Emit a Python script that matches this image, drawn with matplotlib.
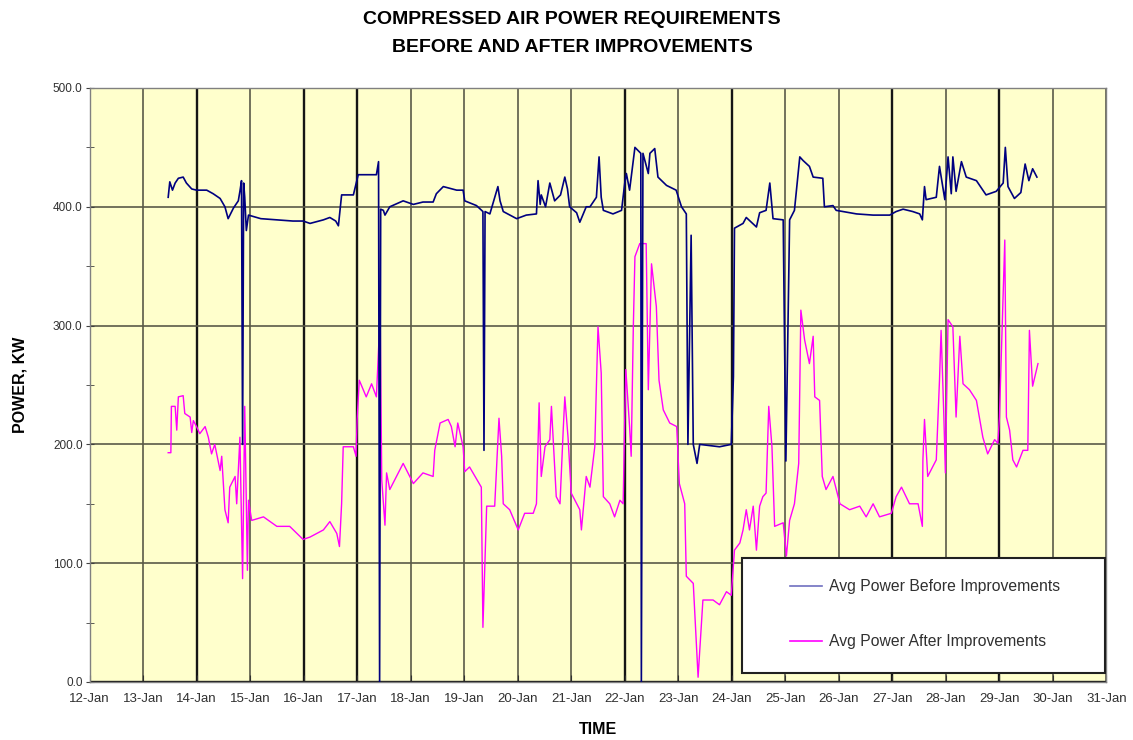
import matplotlib
matplotlib.use("Agg")
import matplotlib.pyplot as plt
from matplotlib.patches import Rectangle
from matplotlib.ticker import FixedLocator, MultipleLocator, FormatStrFormatter

plt.rcParams['font.family'] = ['Liberation Sans', 'DejaVu Sans']

# time = day of January (fractional), power in kW
before_t = [13.47, 13.50, 13.55, 13.60, 13.66, 13.75, 13.81, 13.91, 14.00, 14.19, 14.31, 14.44,
            14.53, 14.59, 14.69, 14.78, 14.81, 14.84, 14.86, 14.88, 14.90, 14.93, 14.97, 15.20,
            15.50, 15.80, 15.99, 16.12, 16.37, 16.49, 16.60, 16.65, 16.71, 16.93, 17.02, 17.36,
            17.40, 17.42, 17.44, 17.49, 17.52, 17.61, 17.86, 18.05, 18.23, 18.42, 18.48, 18.61,
            18.86, 18.98, 19.01, 19.23, 19.35, 19.37, 19.39, 19.48, 19.63, 19.67, 19.73, 19.98,
            20.16, 20.35, 20.38, 20.42, 20.44, 20.52, 20.60, 20.69, 20.80, 20.88, 20.93, 20.97,
            21.10, 21.16, 21.28, 21.35, 21.47, 21.52, 21.56, 21.60, 21.78, 21.94, 22.00, 22.03,
            22.09, 22.19, 22.30, 22.31, 22.34, 22.44, 22.47, 22.56, 22.62, 22.78, 22.96, 23.06,
            23.15, 23.18, 23.24, 23.28, 23.35, 23.40, 23.77, 23.99, 24.03, 24.05, 24.21, 24.27,
            24.46, 24.52, 24.64, 24.71, 24.77, 24.96, 25.01, 25.08, 25.17, 25.27, 25.33, 25.45,
            25.52, 25.70, 25.73, 25.89, 25.95, 26.08, 26.33, 26.64, 26.95, 27.07, 27.20, 27.38,
            27.51, 27.56, 27.60, 27.63, 27.82, 27.88, 27.98, 28.04, 28.10, 28.13, 28.19, 28.29,
            28.38, 28.57, 28.75, 28.94, 29.07, 29.11, 29.16, 29.28, 29.40, 29.48, 29.55, 29.62,
            29.70]
before_kw = [408, 421, 414, 420, 424, 425, 420, 415, 414, 414, 411, 407,
             400, 390, 399, 405, 413, 422, 200, 420, 408, 380, 393, 390,
             389, 388, 388, 386, 389, 391, 388, 384, 410, 410, 427, 427,
             438, 0, 398, 397, 393, 400, 405, 402, 404, 404, 411, 417,
             414, 414, 405, 401, 396, 195, 396, 394, 417, 405, 396, 390,
             393, 394, 422, 402, 410, 400, 420, 405, 410, 425, 415, 400,
             395, 387, 400, 400, 408, 442, 408, 397, 394, 397, 420, 428,
             414, 450, 445, 0, 445, 428, 445, 449, 425, 418, 414, 400,
             394, 200, 376, 200, 184, 200, 198, 200, 257, 382, 386, 391,
             383, 395, 397, 420, 390, 389, 186, 389, 397, 442, 439, 434,
             425, 424, 400, 401, 397, 396, 394, 393, 393, 396, 398, 396,
             394, 389, 417, 406, 408, 434, 406, 442, 411, 442, 413, 438,
             425, 422, 410, 413, 420, 450, 417, 407, 412, 436, 422, 432,
             425]

after_t = [13.47, 13.52, 13.53, 13.60, 13.63, 13.66, 13.75, 13.78, 13.88, 13.91, 13.94, 14.00,
           14.06, 14.16, 14.22, 14.28, 14.34, 14.44, 14.47, 14.53, 14.59, 14.62, 14.72, 14.75,
           14.81, 14.86, 14.90, 14.95, 14.97, 15.03, 15.25, 15.50, 15.74, 15.99, 16.12, 16.37,
           16.49, 16.62, 16.67, 16.71, 16.74, 16.93, 16.98, 17.00, 17.04, 17.17, 17.27, 17.36,
           17.43, 17.46, 17.52, 17.55, 17.61, 17.86, 18.05, 18.23, 18.42, 18.45, 18.55, 18.70,
           18.76, 18.83, 18.88, 18.98, 19.01, 19.10, 19.32, 19.35, 19.42, 19.57, 19.65, 19.70,
           19.73, 19.85, 20.01, 20.13, 20.29, 20.35, 20.40, 20.44, 20.51, 20.60, 20.63, 20.72,
           20.79, 20.85, 20.88, 20.94, 21.00, 21.16, 21.19, 21.28, 21.35, 21.44, 21.50, 21.56,
           21.60, 21.72, 21.81, 21.91, 21.97, 22.00, 22.02, 22.09, 22.12, 22.16, 22.19, 22.28,
           22.40, 22.44, 22.50, 22.59, 22.64, 22.72, 22.84, 22.97, 23.02, 23.12, 23.15, 23.28,
           23.37, 23.46, 23.65, 23.77, 23.90, 23.99, 24.05, 24.15, 24.21, 24.27, 24.33, 24.40,
           24.46, 24.52, 24.58, 24.64, 24.69, 24.75, 24.80, 24.96, 25.02, 25.08, 25.17, 25.25,
           25.29, 25.36, 25.45, 25.52, 25.55, 25.64, 25.69, 25.76, 25.89, 26.02, 26.20, 26.39,
           26.51, 26.64, 26.76, 26.98, 27.07, 27.17, 27.32, 27.48, 27.56, 27.57, 27.60, 27.66,
           27.82, 27.88, 27.91, 27.96, 27.99, 28.04, 28.13, 28.19, 28.26, 28.32, 28.44, 28.57,
           28.69, 28.78, 28.91, 28.97, 29.00, 29.10, 29.13, 29.19, 29.25, 29.32, 29.44, 29.53,
           29.56, 29.62, 29.72]
after_kw = [193, 193, 232, 232, 212, 240, 241, 226, 223, 210, 220, 215,
            209, 215, 206, 192, 200, 178, 190, 145, 134, 164, 173, 150,
            206, 87, 232, 94, 153, 136, 139, 131, 131, 120, 122, 128,
            135, 125, 114, 150, 198, 198, 190, 221, 254, 240, 251, 240,
            310, 170, 132, 176, 162, 184, 167, 176, 173, 195, 218, 221,
            215, 198, 218, 198, 177, 181, 164, 46, 148, 148, 222, 190,
            150, 145, 128, 142, 142, 150, 235, 173, 198, 204, 232, 156,
            150, 212, 240, 206, 159, 145, 128, 173, 164, 198, 299, 260,
            156, 150, 139, 153, 150, 223, 263, 215, 190, 299, 358, 369,
            369, 246, 352, 316, 254, 229, 218, 215, 167, 150, 89, 83,
            4, 69, 69, 65, 76, 73, 111, 117, 128, 145, 128, 148,
            111, 148, 156, 159, 232, 198, 131, 134, 106, 136, 150, 184,
            313, 288, 268, 291, 240, 237, 173, 162, 173, 150, 145, 148,
            139, 150, 139, 142, 156, 164, 150, 150, 131, 187, 221, 173,
            187, 254, 296, 226, 176, 305, 299, 223, 291, 251, 246, 237,
            206, 192, 204, 201, 223, 372, 223, 212, 187, 181, 195, 195,
            296, 249, 268]

day_ticks = list(range(12, 32))
day_labels = [f"{d}-Jan" for d in day_ticks]

fig = plt.figure(figsize=(11.33, 7.40), dpi=100)
ax = fig.add_axes([0.079, 0.0784, 0.8976, 0.8027])
ax.set_facecolor('#FFFFCC')

ax.plot(after_t, after_kw, color='#FF00FF', lw=1.0, label='Avg Power After Improvements', zorder=3)
ax.plot(before_t, before_kw, color='#000080', lw=1.2, label='Avg Power Before Improvements', zorder=4)

ax.set_xlim(12, 31)
ax.set_ylim(0, 500)
ax.xaxis.set_major_locator(FixedLocator(day_ticks))
ax.set_xticklabels(day_labels)
ax.yaxis.set_major_locator(MultipleLocator(100))
ax.yaxis.set_minor_locator(MultipleLocator(50))
ax.yaxis.set_major_formatter(FormatStrFormatter('%.1f'))

ax.grid(True, which='major', color='#5a5a48', lw=1.2, zorder=1)
dark_days = [14, 16, 17, 22, 24, 27, 29]
for d, gl in zip(day_ticks, ax.get_xgridlines()):
    if d in dark_days:
        gl.set_color('#151515')
        gl.set_linewidth(1.7)
for v, gl in zip(range(0, 600, 100), ax.get_ygridlines()):
    if v == 100:
        gl.set_color('#151515')
        gl.set_linewidth(1.7)

for s in ax.spines.values():
    s.set_color('#808080')
    s.set_linewidth(1.0)

ax.tick_params(axis='y', which='both', direction='inout', length=6, color='#404040',
               labelsize=8.5, labelcolor='#303030', pad=2)
ax.tick_params(axis='x', which='major', direction='in', length=5, color='#303030',
               labelsize=9.5, labelcolor='#303030', pad=8)

ax.set_ylabel('POWER, KW', fontsize=11.5, fontweight='bold', labelpad=18)
ax.set_xlabel('TIME', fontsize=11.5, fontweight='bold', labelpad=12)

fig.text(0.505, 0.973, 'COMPRESSED AIR POWER REQUIREMENTS', ha='center', va='center',
         fontsize=14, fontweight='bold')
fig.text(0.505, 0.936, 'BEFORE AND AFTER IMPROVEMENTS', ha='center', va='center',
         fontsize=14, fontweight='bold')

# legend box in the lower right corner of the plot area
ax.add_patch(Rectangle((0.6416, 0.015), 0.357, 0.193, transform=ax.transAxes,
                       facecolor='white', edgecolor='#202020', lw=1.5, zorder=5))
handles, labels = ax.get_legend_handles_labels()
leg = ax.legend(handles[::-1], labels[::-1], loc='upper left', bbox_to_anchor=(0.689, 0.173),
                frameon=False, fontsize=11.3, handlelength=2.0, handletextpad=0.45,
                labelspacing=2.55, borderpad=0, borderaxespad=0)
leg.set_zorder(6)
for line in leg.get_lines():
    line.set_linewidth(1.2)
leg.get_lines()[0].set_color('#7070C0')
for t in leg.get_texts():
    t.set_color('#303030')

fig.savefig('out.png', dpi=100, facecolor='white')
